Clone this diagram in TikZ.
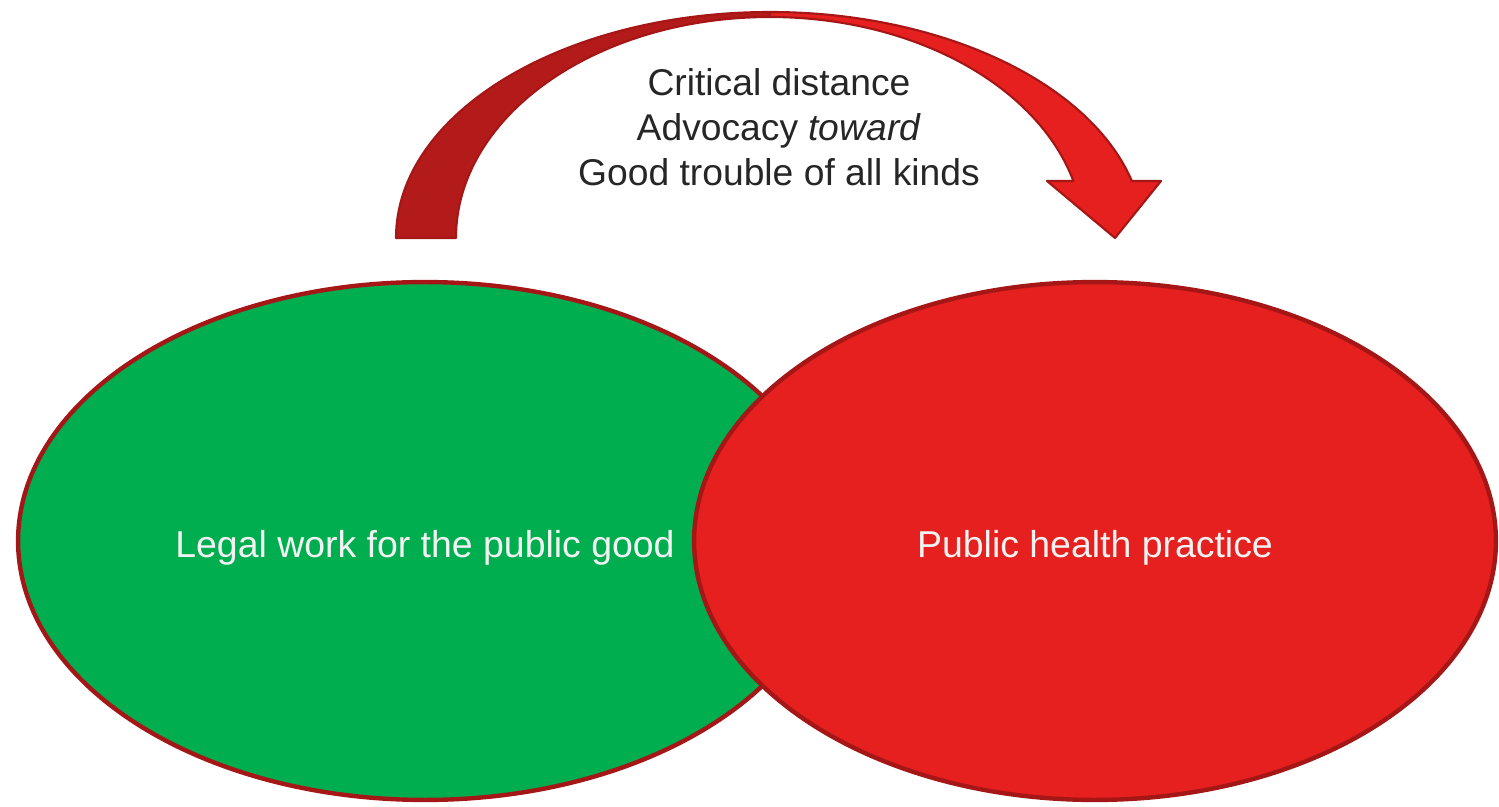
\documentclass[tikz,border=0pt]{standalone}
\usepackage{fontspec}
\setmainfont{Liberation Sans}
\usetikzlibrary{positioning,shapes.geometric}

\definecolor{legalgreen}{HTML}{00AE50}
\definecolor{healthred}{HTML}{E5201F}
\definecolor{rimred}{HTML}{A51616}
\definecolor{backred}{HTML}{B31A1A}
\definecolor{textgray}{HTML}{262626}
\definecolor{paletext}{HTML}{F2F2F2}

\begin{document}
\begin{tikzpicture}[
  x=0.02cm, y=0.02cm,
  field/.style={ellipse, draw=rimred, line width=2.5pt, minimum height=10.36cm,
                inner sep=0pt, text height=25pt, text depth=6pt,
                text=paletext, font=\fontsize{21.3}{25}\selectfont},
  theme/.style={align=center, text=textgray, font=\fontsize{21.2}{25.5}\selectfont},
  backpart/.style={fill=backred, draw=rimred, line width=1.2pt, line join=round},
  frontpart/.style={fill=healthred, draw=rimred, line width=1.2pt, line join=round},
]
  \useasboundingbox (0,0) rectangle (1499,806);

  \node[field, fill=legalgreen, minimum width=16.28cm] (legal) at (425,265) {Legal work for the public good};
  \node[field, fill=healthred, minimum width=16.04cm] (health) at (1095,265) {Public health practice};

  % curved arrow from legal side over to health side
  \coordinate (hub) at (770,568);
  \draw[backpart] (396,568) arc[start angle=180, end angle=90, x radius=374, y radius=226]
    -- (770,789) arc[start angle=90, end angle=180, x radius=314, y radius=221] -- cycle;
  \draw[frontpart] (770,794) arc[start angle=90, end angle=14.6, x radius=374, y radius=226]
    -- (1161,625) -- (1115,568) -- (1047,625) -- (1073.4,625)
    arc[start angle=14.95, end angle=90, x radius=314, y radius=221] -- cycle;

  \node[theme] (roles) at (779,679) {Critical distance\\Advocacy \textit{toward}\\Good trouble of all kinds};
\end{tikzpicture}
\end{document}
